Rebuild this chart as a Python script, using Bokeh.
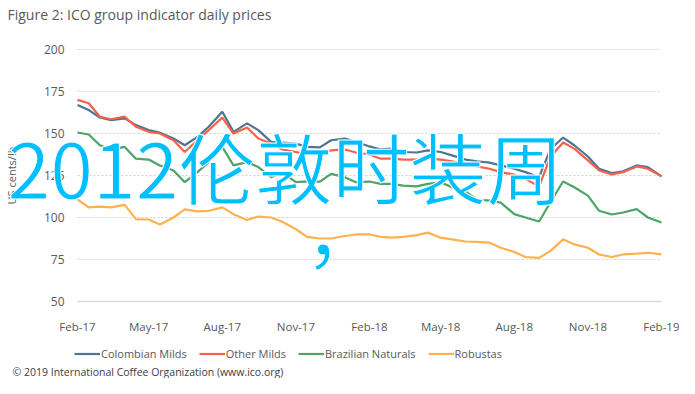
import math
import pandas as pd
from bokeh.plotting import figure
from bokeh.models import (Range1d, FixedTicker, DatetimeTickFormatter, Label, Legend,
                          LegendItem, ColumnDataSource, LinearAxis, DatetimeAxis)
from bokeh.embed import file_html
from bokeh.resources import INLINE

# ---------------- data ----------------
title_text = "Figure 2: ICO group indicator daily prices"
y_title = "US cents/lb"
footer_text = "\u00a9 2019 International Coffee Organization (www.ico.org)"
overlay_text = "2012伦敦时装周"
overlay_comma = "，"

series_names = ["Colombian Milds", "Other Milds", "Brazilian Naturals", "Robustas"]
series_colors = ["#4E7592", "#F8604A", "#4DA466", "#FDB14F"]

tick_dates = ["2017-02-01", "2017-05-01", "2017-08-01", "2017-11-01", "2018-02-01",
              "2018-05-01", "2018-08-01", "2018-11-01", "2019-02-01"]
y_ticks = [50, 75, 100, 125, 150, 175, 200]
x_start, x_end = "2017-02-01", "2019-02-01"
y_start, y_end = 50, 200

# semi-monthly observation dates (1st and 15th), Feb-17 .. Feb-19
dates = pd.date_range(x_start, x_end, freq="SMS")

colombian = [167, 164, 159.5, 158, 159, 155, 152, 150.5, 147, 143,
             148, 154, 163, 151, 156, 152, 145, 144.6, 144, 142,
             141.7, 146, 147, 145, 142.3, 140.5, 141, 139, 138.7, 140,
             139, 137, 134.5, 133.5, 132.7, 131, 129, 127, 124, 140.5,
             147.6, 143, 136.3, 129, 126.5, 127.5, 131, 130, 124.5]
other = [170, 168, 160, 158.5, 160, 154, 151, 150, 146, 139,
         146, 152, 159.5, 150, 153.6, 147, 144, 140.5, 139, 137.5,
         138.7, 140, 140.5, 138.7, 137.5, 135, 135, 134.5, 134.5, 135,
         134.5, 133.5, 132, 130.4, 129, 127, 125.5, 123, 118.5, 136,
         144.6, 141, 134, 128, 125.6, 127, 130.4, 129, 124.5]
brazilian = [150.6, 149.4, 143, 140.5, 142, 135, 134.5, 131, 128, 121,
             127, 133, 142, 131, 133, 130, 124, 126.8, 121, 121.5,
             121.4, 126, 124, 121, 121.4, 120, 120, 119, 118.5, 120,
             121, 118, 115.5, 110.7, 110, 108.9, 102, 100, 97.6, 108.9,
             121.4, 118, 113, 104, 101.8, 103, 105, 100, 97]
robustas = [110.7, 106, 106.5, 106, 107.5, 99, 98.8, 95.8, 100, 104.8,
            103.6, 104, 106, 102, 98.5, 100.6, 100, 97.5, 93, 88.5,
            87.5, 87.5, 89, 89.9, 89.9, 88.5, 88, 88.5, 89.5, 91,
            88, 87, 85.7, 85.5, 85, 82, 79.5, 76.5, 76, 80,
            87, 84, 82, 78, 76.5, 78, 78.5, 79, 78]
series_values = [colombian, other, brazilian, robustas]

# ---------------- layout (pixels on the canvas) ----------------
W, H = 679, 378
PL, PR = 77, 661        # plot area left / right on canvas
PT, PB = 49, 301        # plot area top / bottom on canvas

t0 = pd.Timestamp(x_start).value / 1e6
t1 = pd.Timestamp(x_end).value / 1e6
ms_per_px = (t1 - t0) / (PR - PL)
v_per_px = (y_end - y_start) / (PB - PT)
xr = Range1d(t0 - PL * ms_per_px, t1 + (W - PR) * ms_per_px)
yr = Range1d(y_start - (H - PB) * v_per_px, y_end + PT * v_per_px)

p = figure(width=W, height=H, output_backend="svg", toolbar_location=None,
           x_range=xr, y_range=yr, x_axis_location=None, y_axis_location=None,
           min_border_left=0, min_border_right=0, min_border_top=0, min_border_bottom=0)
p.outline_line_color = None
p.xgrid.grid_line_color = None
p.ygrid.grid_line_color = None

FONT = "Open Sans"
GREY = "#595959"

# dotted gridlines across the plot area
gy = [v for v in y_ticks if v != y_start]
p.segment(x0=[t0] * len(gy), x1=[t1] * len(gy), y0=gy, y1=gy,
          line_color="#D0D0D0", line_dash="2 2", line_width=1)

# x axis
fmt = "%b-%y"
xa = DatetimeAxis(fixed_location=y_start, bounds=(t0, t1))
xa.ticker = FixedTicker(ticks=[pd.Timestamp(d).value / 1e6 for d in tick_dates])
xa.formatter = DatetimeTickFormatter(years=fmt, months=fmt, days=fmt, hours=fmt,
                                     minutes=fmt, seconds=fmt, milliseconds=fmt,
                                     microseconds=fmt, hourmin=fmt, minsec=fmt)
xa.axis_line_color = "#D9D9D9"
xa.axis_line_width = 1.5
xa.major_tick_line_color = None
xa.minor_tick_line_color = None
xa.major_label_standoff = 11
xa.major_label_text_font = FONT
xa.major_label_text_font_size = "11.5px"
xa.major_label_text_color = GREY
p.add_layout(xa, "below")

# y axis
ya = LinearAxis(fixed_location=t0)
ya.ticker = FixedTicker(ticks=y_ticks)
ya.axis_line_color = None
ya.major_tick_line_color = None
ya.minor_tick_line_color = None
ya.major_label_standoff = 7
ya.major_label_text_font = FONT
ya.major_label_text_font_size = "12px"
ya.major_label_text_color = GREY
p.add_layout(ya, "left")

# lines
items = []
for name, col, vals in zip(series_names, series_colors, series_values):
    src = ColumnDataSource(dict(x=dates, y=vals))
    r = p.line("x", "y", source=src, line_color=col, line_width=2.2)
    items.append(LegendItem(label=name, renderers=[r]))

legend = Legend(items=items, location=(74, 17), orientation="horizontal",
                glyph_width=26, glyph_height=13, label_height=13, label_standoff=1,
                spacing=12, padding=0, margin=0, border_line_color=None,
                background_fill_alpha=0, label_text_font=FONT,
                label_text_font_size="11px", label_text_color=GREY)
p.add_layout(legend, "center")

# texts (screen units from the canvas' bottom-left)
def sy(cy):
    return H - cy

p.add_layout(Label(x=7, y=sy(14), x_units="screen", y_units="screen", text=title_text,
                   text_font=FONT, text_font_size="14px", text_color=GREY,
                   text_baseline="middle", text_align="left"))
p.add_layout(Label(x=11, y=sy(175), x_units="screen", y_units="screen", text=y_title,
                   angle=math.pi / 2, text_font=FONT, text_font_size="11px",
                   text_color=GREY, text_baseline="middle", text_align="center"))
p.add_layout(Label(x=12, y=sy(371), x_units="screen", y_units="screen", text=footer_text,
                   text_font=FONT, text_font_size="10.5px", text_color="#404040",
                   text_baseline="middle", text_align="left"))

ov_kw = dict(x_units="screen", y_units="screen", text_font="Noto Sans CJK SC",
             text_font_size="77px", text_color="#00BFFF", text_align="left",
             text_baseline="alphabetic")
big = Label(x=7, y=213, text=overlay_text, **ov_kw)
comma = Label(x=304, y=150, text=overlay_comma, **ov_kw)
for lab in (big, comma):
    if "text_outline_color" in lab.properties():
        lab.text_outline_color = "white"
    p.add_layout(lab)

open("out.html", "w").write(file_html(p, INLINE))
